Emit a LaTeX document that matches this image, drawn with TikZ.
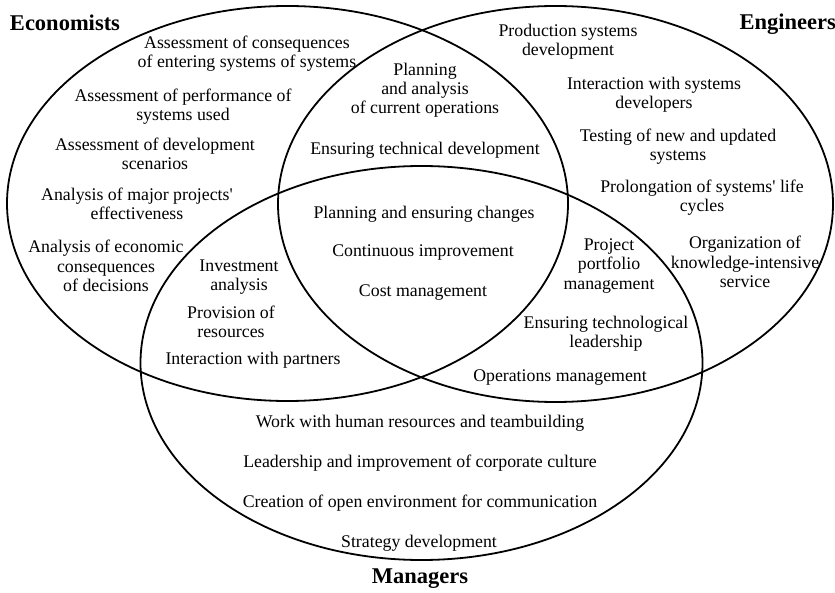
\documentclass[tikz,border=0pt]{standalone}
\usepackage{fontspec}
\setmainfont{Liberation Serif}

\begin{document}
\begin{tikzpicture}[x=1pt, y=-1pt,
  item/.style={align=center, inner sep=0pt, font=\fontsize{17.8}{19.2}\selectfont},
  group/.style={inner sep=0pt, font=\fontsize{22.5}{24}\selectfont\bfseries},
  set/.style={line width=1.8pt}]
\useasboundingbox (0,0) rectangle (835,593);

% The three sets
\draw[set] (287.5,203.5) ellipse (280.5pt and 197.5pt);
\draw[set] (555.5,204) ellipse (277.5pt and 198pt);
\draw[set] (421.5,363) ellipse (281pt and 197pt);

% Set names
\node[group] (econ) at (65,23) {Economists};
\node[group, anchor=east] (eng) at (836,24) {Engineers};
\node[group] (man) at (420,579) {Managers};

% Economists only
\node[item] (consequences) at (247,54) {Assessment of consequences\\of entering systems of systems};
\node[item] (performance) at (183,107) {Assessment of performance of\\systems used};
\node[item] (scenarios) at (155,154) {Assessment of development\\scenarios};
\node[item] (majorprojects) at (137,204) {Analysis of major projects\textquotesingle\\effectiveness};
\node[item] (decisions) at (106,266) {Analysis of economic\\consequences\\of decisions};

% Engineers only
\node[item] (production) at (568,42) {Production systems\\development};
\node[item] (developers) at (654,95) {Interaction with systems\\developers};
\node[item] (testing) at (678,147) {Testing of new and updated\\systems};
\node[item] (lifecycles) at (702,198) {Prolongation of systems\textquotesingle{} life\\cycles};
\node[item] (service) at (745,262) {Organization of\\knowledge-intensive\\service};

% Economists and Engineers
\node[item] (operations) at (425,90) {Planning\\and analysis\\of current operations};
\node[item] (technical) at (425,150) {Ensuring technical development};

% All three
\node[item] (changes) at (424,214) {Planning and ensuring changes};
\node[item] (improvement) at (423,253) {Continuous improvement};
\node[item] (cost) at (423,293) {Cost management};

% Economists and Managers
\node[item] (investment) at (239,277) {Investment\\analysis};
\node[item] (resources) at (231,322) {Provision of\\resources};
\node[item] (partners) at (253,360) {Interaction with partners};

% Engineers and Managers
\node[item] (portfolio) at (609,266) {Project\\portfolio\\management};
\node[item] (leadership) at (606,334) {Ensuring technological\\leadership};
\node[item] (opsmanagement) at (560,378) {Operations management};

% Managers only
\node[item] (teambuilding) at (420,423) {Work with human resources and teambuilding};
\node[item] (culture) at (420,463) {Leadership and improvement of corporate culture};
\node[item] (communication) at (420,503) {Creation of open environment for communication};
\node[item] (strategy) at (419,543) {Strategy development};
\end{tikzpicture}
\end{document}
